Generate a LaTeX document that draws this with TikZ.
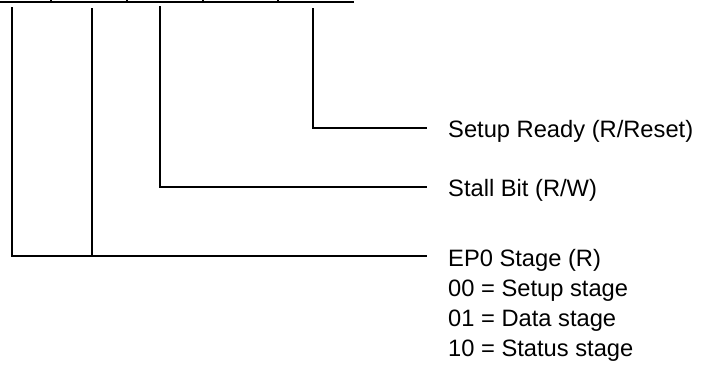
\documentclass[tikz,border=0pt]{standalone}
\usepackage{fontspec}
\setmainfont{Liberation Sans}
\begin{document}
\begin{tikzpicture}[x=1pt,y=-1pt,
  wire/.style={line width=1.8pt, line cap=rect},
  lbl/.style={anchor=base west, inner sep=0pt, font=\fontsize{23.7}{30}\selectfont}]
\useasboundingbox (0,0) rectangle (703,367);
\clip (0,0) rectangle (703,367);
% top register edge
\coordinate (tl) at (-5,2);
\coordinate (tr) at (353,2);
\draw[wire] (tl) -- (tr);
\foreach \x [count=\i] in {51,127,203,278}{
  \coordinate (tb\i) at (\x,2);
  \coordinate (tt\i) at (\x,-6);
  \draw[wire] (tb\i) -- (tt\i);
}
% labels
\node[lbl] (setup) at (448,137) {Setup Ready (R/Reset)};
\node[lbl] (stall) at (448,196) {Stall Bit (R/W)};
\node[lbl] (ep0) at (448,266) {EP0 Stage (R)};
\node[lbl] (s00) at (448,296) {00 = Setup stage};
\node[lbl] (s01) at (448,326) {01 = Data stage};
\node[lbl] (s10) at (448,356) {10 = Status stage};
% bit lines
\coordinate (b0) at (12,8);
\coordinate (b1) at (92,9);
\coordinate (b2) at (160,7);
\coordinate (b3) at (313,9);
\coordinate (e3) at (426,128);
\coordinate (e2) at (426,187);
\coordinate (e1) at (426,256);
\draw[wire] (b3) |- (e3);
\draw[wire] (b2) |- (e2);
\draw[wire] (b0) |- (e1);
\draw[wire] (b1) -- (b1 |- e1);
\end{tikzpicture}
\end{document}
